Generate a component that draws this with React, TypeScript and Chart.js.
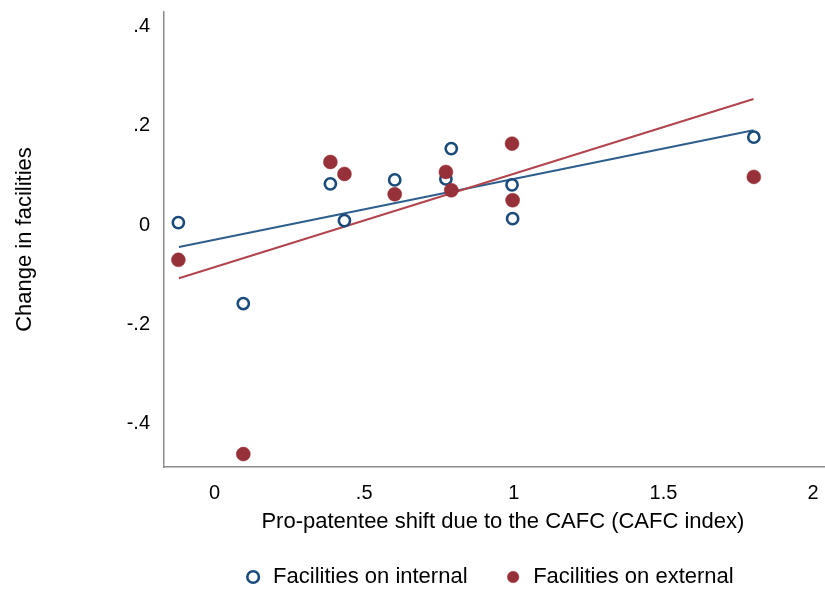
import React, { useEffect, useRef } from 'react';
import { Chart, registerables } from 'chart.js';

Chart.register(...registerables);

// CAFC index (shared x values of the industries)
const xValues = [-0.121, 0.096, 0.387, 0.434, 0.602, 0.773, 0.791, 0.994, 0.996, 1.802];
// Change in facilities
const internalValues = [0.005, -0.158, 0.083, 0.009, 0.091, 0.093, 0.154, 0.081, 0.013, 0.177];
const externalValues = [-0.07, -0.461, 0.127, 0.103, 0.062, 0.107, 0.07, 0.164, 0.05, 0.097];
// Fitted lines (end points)
const fitX = [-0.119, 1.801];
const fitInternal = [-0.044, 0.191];
const fitExternal = [-0.107, 0.254];

const xTicks = [0, 0.5, 1, 1.5, 2];
const yTicks = [-0.4, -0.2, 0, 0.2, 0.4];

const seriesLabels = ['Facilities on internal', 'Facilities on external'];

const FONT = 'Liberation Sans';
const BLUE = '#1b4b7b';
const BLUE_LINE = '#2e5e8e';
const RED = '#963139';
const RED_LINE = '#b1444c';
const AXIS = '#8c8c8c';
const TEXT = '#000';

const fmt = (v: number) => {
  if (v === 0) return '0';
  const s = String(Math.abs(v)).replace(/^0/, '');
  return (v < 0 ? '-' : '') + s;
};

const shiftLegend = {
  id: 'shiftLegend',
  afterLayout(chart: any) {
    const l = chart.legend;
    if (l) {
      l.left -= 14;
      l.right -= 14;
    }
  },
};

export default function App() {
  const ref = useRef<HTMLCanvasElement | null>(null);

  useEffect(() => {
    if (!ref.current) return;
    Chart.defaults.font.family = FONT;
    const chart = new Chart(ref.current, {
      type: 'scatter',
      data: {
        datasets: [
          {
            label: seriesLabels[0],
            data: xValues.map((x, i) => ({ x, y: internalValues[i] })),
            pointStyle: 'circle',
            pointRadius: 5.6,
            pointBorderWidth: 2.6,
            borderWidth: 2.2,
            borderColor: BLUE,
            backgroundColor: 'rgba(255,255,255,0)',
            pointBackgroundColor: 'rgba(255,255,255,0)',
            pointBorderColor: BLUE,
            order: 1,
          },
          {
            label: seriesLabels[1],
            data: xValues.map((x, i) => ({ x, y: externalValues[i] })),
            pointStyle: 'circle',
            pointRadius: 7,
            borderWidth: 1.5,
            pointBorderWidth: 0.5,
            borderColor: RED,
            backgroundColor: RED,
            pointBackgroundColor: RED,
            pointBorderColor: RED,
            order: 0,
          },
          {
            label: 'fit internal',
            data: fitX.map((x, i) => ({ x, y: fitInternal[i] })),
            showLine: true,
            borderColor: BLUE_LINE,
            borderWidth: 2,
            pointRadius: 0,
            fill: false,
            order: 3,
          },
          {
            label: 'fit external',
            data: fitX.map((x, i) => ({ x, y: fitExternal[i] })),
            showLine: true,
            borderColor: RED_LINE,
            borderWidth: 2,
            pointRadius: 0,
            fill: false,
            order: 2,
          },
        ],
      },
      options: {
        animation: false,
        responsive: false,
        layout: { padding: { top: 0, right: 2, left: 0, bottom: 0 } },
        plugins: {
          tooltip: { enabled: false },
          legend: {
            position: 'bottom',
            fullSize: false,
            labels: {
              usePointStyle: true,
              boxWidth: 18,
              boxHeight: 8.2,
              padding: 36.6,
              color: TEXT,
              font: { family: FONT, size: 22 },
              filter: (item: any) => item.datasetIndex < 2,
              sort: (a: any, b: any) => a.datasetIndex - b.datasetIndex,
            },
          },
        },
        scales: {
          x: {
            type: 'linear',
            min: -0.169,
            max: 2.096,
            grid: { display: false, drawTicks: true, tickLength: 14 },
            border: { display: true, color: AXIS, width: 1.5 },
            afterBuildTicks: (scale: any) => {
              scale.ticks = xTicks.map((v) => ({ value: v }));
            },
            afterFit: (scale: any) => {
              scale.height = 62.4;
            },
            ticks: {
              autoSkip: false,
              maxRotation: 0,
              padding: 0,
              color: TEXT,
              font: { family: FONT, size: 20 },
              callback: (v: any) => fmt(Number(v)),
            },
            title: {
              display: true,
              text: 'Pro-patentee shift due to the CAFC (CAFC index)',
              color: TEXT,
              font: { family: FONT, size: 22 },
              padding: { top: 0, bottom: -5.8 },
            },
          },
          y: {
            type: 'linear',
            min: -0.487,
            max: 0.429,
            grid: { display: false, drawTicks: true, tickLength: 14 },
            border: { display: true, color: AXIS, width: 1.5 },
            afterBuildTicks: (scale: any) => {
              scale.ticks = yTicks.map((v) => ({ value: v }));
            },
            afterFit: (scale: any) => {
              scale.width = 164;
            },
            ticks: {
              autoSkip: false,
              padding: 0,
              color: TEXT,
              font: { family: FONT, size: 20 },
              callback: (v: any) => fmt(Number(v)),
            },
            title: {
              display: true,
              text: 'Change in facilities',
              color: TEXT,
              font: { family: FONT, size: 22 },
              padding: { top: 11.8, bottom: 0 },
            },
          },
        },
      },
      plugins: [shiftLegend],
    } as any);
    return () => chart.destroy();
  }, []);

  return (
    <div
      style={{
        position: 'fixed',
        left: 0,
        top: 0,
        width: 825,
        height: 589,
        overflow: 'hidden',
        background: '#fff',
      }}
    >
      <canvas ref={ref} width={850} height={598} style={{ display: 'block' }} />
    </div>
  );
}
